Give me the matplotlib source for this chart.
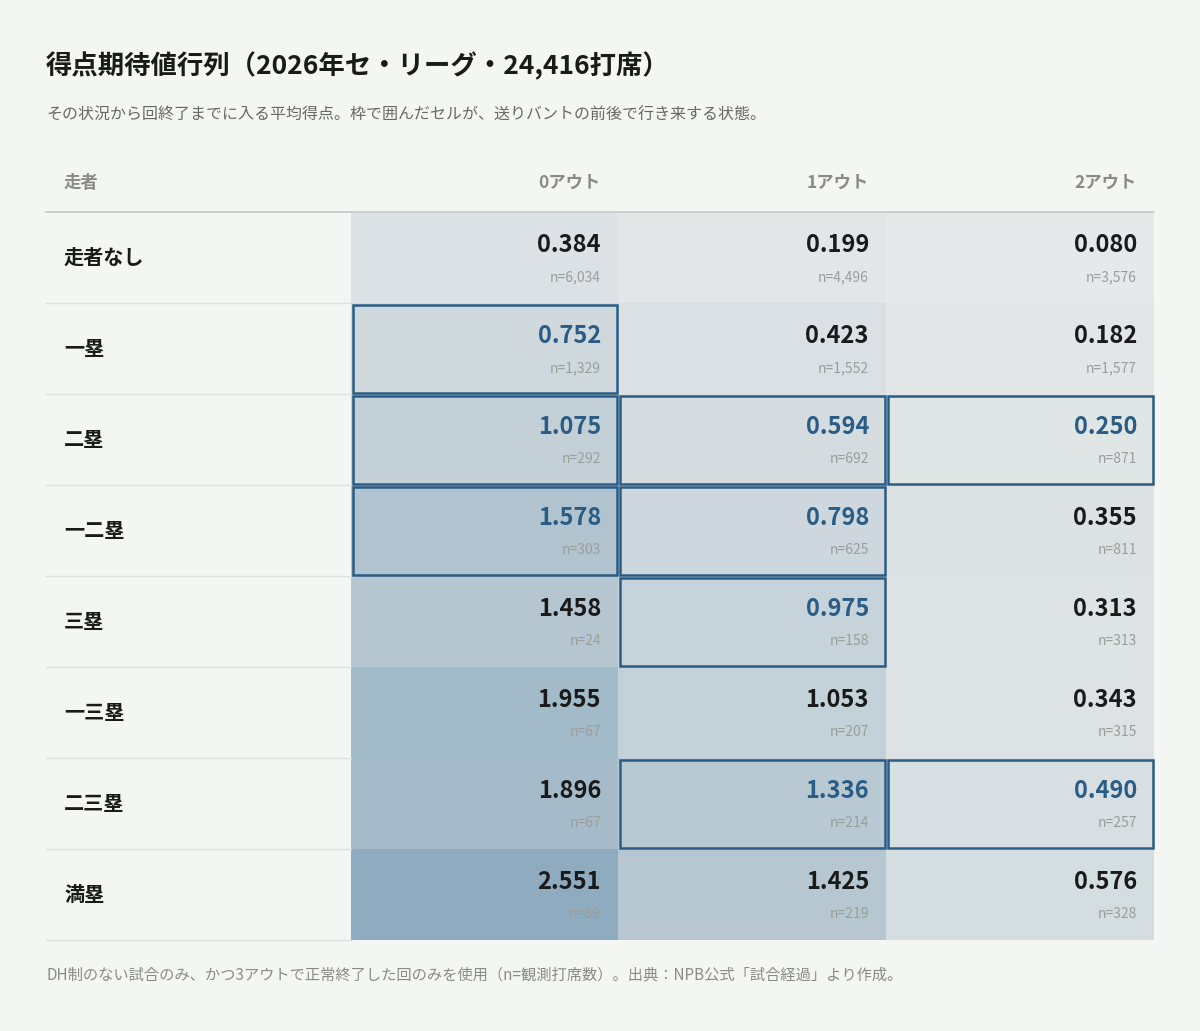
import matplotlib
matplotlib.use("Agg")
import matplotlib.pyplot as plt
from matplotlib.patches import Rectangle
import numpy as np

plt.rcParams['font.family'] = ['Noto Sans CJK JP', 'DejaVu Sans']

runners = ["走者なし", "一塁", "二塁", "一二塁", "三塁", "一三塁", "二三塁", "満塁"]
outs = ["0アウト", "1アウト", "2アウト"]
values = [[0.384, 0.199, 0.080], [0.752, 0.423, 0.182], [1.075, 0.594, 0.250],
          [1.578, 0.798, 0.355], [1.458, 0.975, 0.313], [1.955, 1.053, 0.343],
          [1.896, 1.336, 0.490], [2.551, 1.425, 0.576]]
counts = [[6034, 4496, 3576], [1329, 1552, 1577], [292, 692, 871], [303, 625, 811],
          [24, 158, 313], [67, 207, 315], [67, 214, 257], [89, 219, 328]]
highlight = [(1, 0), (2, 0), (2, 1), (2, 2), (3, 0), (3, 1), (4, 1), (6, 1), (6, 2)]

W, H = 1200, 1031
fig = plt.figure(figsize=(W/100, H/100), dpi=100)
fig.patch.set_facecolor("#f4f6f3")
ax = fig.add_axes([0, 0, 1, 1])
ax.set_xlim(0, W); ax.set_ylim(H, 0); ax.axis("off")

ax.text(46, 66, "得点期待値行列（2026年セ・リーグ・24,416打席）", fontsize=19, fontweight="bold",
        color="#1a1a1a", va="center")
ax.text(46, 115, "その状況から回終了までに入る平均得点。枠で囲んだセルが、送りバントの前後で行き来する状態。",
        fontsize=11.5, color="#666a66", va="center")

col_x = [351, 618, 886, 1154]
top, rh = 212, 91
ax.text(64, 183, "走者", fontsize=12.5, color="#888c88", va="center", fontweight="bold")
for j, o in enumerate(outs):
    ax.text(col_x[j+1]-17, 183, o, fontsize=12.5, color="#888c88", va="center", ha="right", fontweight="bold")
ax.plot([46, 1154], [top, top], color="#c8ccc8", lw=1.3)

c0 = np.array([0xe9, 0xeb, 0xea]) / 255
c1 = np.array([0x8e, 0xab, 0xbf]) / 255
vmax = 2.551
for i, r in enumerate(runners):
    y0 = top + i*rh
    ax.text(64, y0 + rh/2, r, fontsize=14.5, fontweight="bold", color="#1a1a1a", va="center")
    ax.plot([46, 351], [y0+rh, y0+rh], color="#dde0dd", lw=1)
    for j in range(3):
        t = values[i][j] / vmax
        col = c0 + (c1 - c0) * t
        ax.add_patch(Rectangle((col_x[j], y0), col_x[j+1]-col_x[j], rh, facecolor=col, edgecolor="none"))
        hl = (i, j) in highlight
        ax.text(col_x[j+1]-17, y0+33, f"{values[i][j]:.3f}", fontsize=17, fontweight="bold",
                color="#2a5c85" if hl else "#1a1a1a", ha="right", va="center")
        ax.text(col_x[j+1]-17, y0+65, f"n={counts[i][j]:,}", fontsize=10, color="#9a9e9a",
                ha="right", va="center")
for (i, j) in highlight:
    y0 = top + i*rh
    ax.add_patch(Rectangle((col_x[j]+1.5, y0+1.5), col_x[j+1]-col_x[j]-3, rh-3, facecolor="none",
                           edgecolor="#2a5c85", lw=1.8, zorder=5))

ax.text(46, 975, "DH制のない試合のみ、かつ3アウトで正常終了した回のみを使用（n=観測打席数）。出典：NPB公式「試合経過」より作成。",
        fontsize=11, color="#888c88", va="center")

fig.savefig("out.png", dpi=100, facecolor=fig.get_facecolor())
